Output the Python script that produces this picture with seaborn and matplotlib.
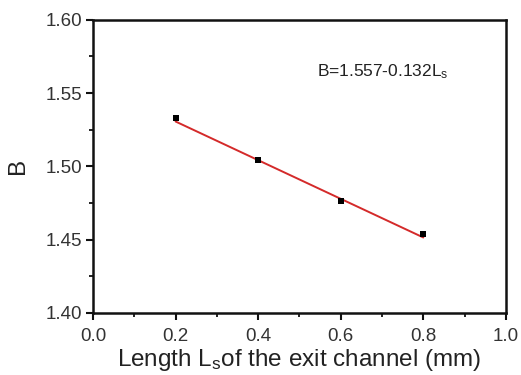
import numpy as np
import pandas as pd
import matplotlib
matplotlib.use("Agg")
import matplotlib.pyplot as plt
from matplotlib.ticker import MultipleLocator
import seaborn as sns

# Measured B versus exit channel length
length_mm = [0.2, 0.4, 0.6, 0.8]
b_values = [1.533, 1.504, 1.476, 1.454]

# Linear fit B = intercept + slope * Ls
fit_intercept = 1.557
fit_slope = -0.132

sns.set_style("ticks")
plt.rcParams["font.family"] = ["Liberation Sans", "DejaVu Sans"]
plt.rcParams["mathtext.default"] = "regular"

fig = plt.figure(figsize=(5.21, 3.75), dpi=100)
ax = fig.add_axes([0.1785, 0.166, 0.7925, 0.781])

fit_x = np.array([length_mm[0], length_mm[-1]])
fit_df = pd.DataFrame({"x": fit_x, "y": fit_intercept + fit_slope * fit_x})
sns.lineplot(data=fit_df, x="x", y="y", ax=ax, color="#d42a2a", linewidth=1.4)

pts = pd.DataFrame({"x": length_mm, "y": b_values})
sns.scatterplot(data=pts, x="x", y="y", ax=ax, marker="s", s=24,
                color="black", edgecolor="black", linewidth=0, zorder=3)

ax.set_xlim(0.0, 1.0)
ax.set_ylim(1.40, 1.60)
ax.xaxis.set_major_locator(MultipleLocator(0.2))
ax.xaxis.set_minor_locator(MultipleLocator(0.1))
ax.yaxis.set_major_locator(MultipleLocator(0.05))
ax.yaxis.set_minor_locator(MultipleLocator(0.025))
ax.xaxis.set_major_formatter(plt.FuncFormatter(lambda v, p: f"{v:.1f}"))
ax.yaxis.set_major_formatter(plt.FuncFormatter(lambda v, p: f"{v:.2f}"))

for s in ax.spines.values():
    s.set_linewidth(1.8)
    s.set_color("#111111")
ax.tick_params(which="major", direction="out", length=5, width=1.5,
               labelsize=13.5, labelcolor="#333333", color="#111111", pad=3)
ax.tick_params(axis="x", which="major", pad=6)
ax.tick_params(which="minor", direction="out", length=3, width=1.3, color="#111111")

ax.set_xlabel("Length L$_s$of the exit channel (mm)", fontsize=17.5,
              color="#222222", labelpad=1.5)
ax.set_ylabel("B", fontsize=17.5, color="#222222", labelpad=12)

ax.text(0.702, 0.822, "B=1.557-0.132L$_s$", transform=ax.transAxes,
        fontsize=12.5, color="#222222", va="center", ha="center")

fig.savefig("out.png", dpi=100)
